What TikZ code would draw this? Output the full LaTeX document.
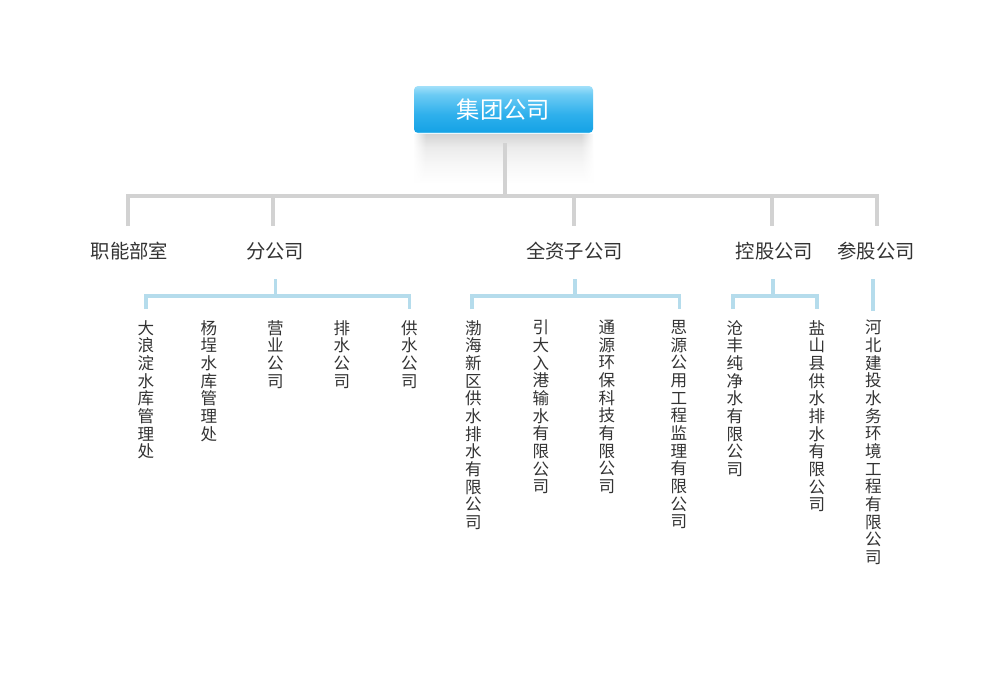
\documentclass[tikz,border=0pt]{standalone}
\usepackage{fontspec}
\setmainfont{Noto Sans CJK SC}
\usetikzlibrary{calc,fadings}
\definecolor{linegray}{HTML}{D2D2D2}
\definecolor{lineblue}{HTML}{B5DCEC}
\definecolor{txt}{HTML}{333333}
\definecolor{boxt}{HTML}{A2E0FA}
\definecolor{boxl}{HTML}{6CCBF4}
\definecolor{boxm}{HTML}{2FB0EC}
\definecolor{boxd}{HTML}{16A3E6}
\definecolor{boxb}{HTML}{6ECBF3}
\definecolor{sh1}{HTML}{D4D4D4}
\definecolor{sh2}{HTML}{EBEBEB}
\definecolor{sh3}{HTML}{F7F7F7}
\pgfdeclareverticalshading{rootshade}{100bp}{color(0bp)=(boxb); color(25bp)=(boxb); color(27bp)=(boxd); color(45bp)=(boxm); color(66bp)=(boxl); color(75bp)=(boxt); color(100bp)=(boxt)}
\pgfdeclareverticalshading{shadowshade}{100bp}{color(0bp)=(white); color(25bp)=(white); color(45bp)=(sh3); color(62bp)=(sh2); color(75bp)=(sh1); color(100bp)=(sh1)}
\tikzset{
  rootbox/.style={shading=rootshade, rounded corners=3pt, minimum width=134.25pt, minimum height=35.25pt, inner sep=0pt, text=white, font=\fontsize{17.5}{20}\selectfont},
  lvlone/.style={inner sep=0pt, text=txt, font=\fontsize{14.5}{16}\selectfont},
  leaf/.style={anchor=north, inner sep=0pt, align=center, text=txt, font=\fontsize{12.4}{13.25}\selectfont},
  grayline/.style={draw=linegray, line width=3pt, line join=miter},
  blueline/.style={draw=lineblue, line width=2.6pt, line join=miter},
}
\begin{document}
\begin{tikzpicture}[x=0.75pt,y=-0.75pt]
\useasboundingbox[fill=white] (0,0) rectangle (1000,700);
% reflection shadow
\fill[shading=shadowshade] (414,134) rectangle (593,184);
\fill[white, path fading=east] (413,133) rectangle (426,185);
\fill[white, path fading=west] (581,133) rectangle (594,185);
\node[rootbox] (root) at (503.5,109.5) {集团公司};

% level one labels
\node[lvlone] (zn) at (129.5,251) {职能部室};
\node[lvlone] (fgs) at (275,251) {分公司};
\node[lvlone] (qz) at (574.5,251) {全资子公司};
\node[lvlone] (kg) at (774.5,251) {控股公司};
\node[lvlone] (cg) at (876,251) {参股公司};

% gray tree
\coordinate (rs) at (505,143);
\coordinate (bus) at (505,196);
\coordinate (d1) at (127.5,196); \coordinate (e1) at (127.5,226);
\coordinate (d2) at (273,196);   \coordinate (e2) at (273,226);
\coordinate (d3) at (574,196);   \coordinate (e3) at (574,226);
\coordinate (d4) at (771.5,196); \coordinate (e4) at (771.5,226);
\coordinate (d5) at (877,196);   \coordinate (e5) at (877,226);
\draw[grayline] (rs) -- (bus);
\draw[grayline] (e1) -- (d1) -- (d5) -- (e5);
\draw[grayline] (d2) -- (e2);
\draw[grayline] (d3) -- (e3);
\draw[grayline] (d4) -- (e4);

% leaves
\node[leaf] (a1) at (146,320) {大\\浪\\淀\\水\\库\\管\\理\\处};
\node[leaf] (a2) at (209,320) {杨\\埕\\水\\库\\管\\理\\处};
\node[leaf] (a3) at (275.5,320) {营\\业\\公\\司};
\node[leaf] (a4) at (342,320) {排\\水\\公\\司};
\node[leaf] (a5) at (409.5,320) {供\\水\\公\\司};

\node[leaf] (b1) at (473.5,320) {渤\\海\\新\\区\\供\\水\\排\\水\\有\\限\\公\\司};
\node[leaf] (b2) at (541,320) {引\\大\\入\\港\\输\\水\\有\\限\\公\\司};
\node[leaf] (b3) at (607,320) {通\\源\\环\\保\\科\\技\\有\\限\\公\\司};
\node[leaf] (b4) at (679,320) {思\\源\\公\\用\\工\\程\\监\\理\\有\\限\\公\\司};

\node[leaf] (c1) at (735,320) {沧\\丰\\纯\\净\\水\\有\\限\\公\\司};
\node[leaf] (c2) at (817,320) {盐\\山\\县\\供\\水\\排\\水\\有\\限\\公\\司};

\node[leaf] (g1) at (873.5,320) {河\\北\\建\\投\\水\\务\\环\\境\\工\\程\\有\\限\\公\\司};

% blue connectors
\coordinate (fs) at (275.5,279); \coordinate (fb) at (275.5,296);
\draw[blueline] (fs) -- (fb);
\draw[blueline] (a1.north |- 0,309) |- (fb) -| (a5.north |- 0,309);

\coordinate (qs) at (575,279); \coordinate (qb) at (575,296);
\draw[blueline] (qs) -- (qb);
\draw[blueline] (472,309) |- (qb) -| (679.5,309);

\coordinate (ks) at (773,279); \coordinate (kb) at (773,296);
\draw[blueline] (ks) -- (kb);
\draw[blueline] (733,309) |- (kb) -| (817,309);

\coordinate (cs) at (873,279); \coordinate (cb) at (873,311);
\draw[blueline] (cs) -- (cb);
\end{tikzpicture}
\end{document}
